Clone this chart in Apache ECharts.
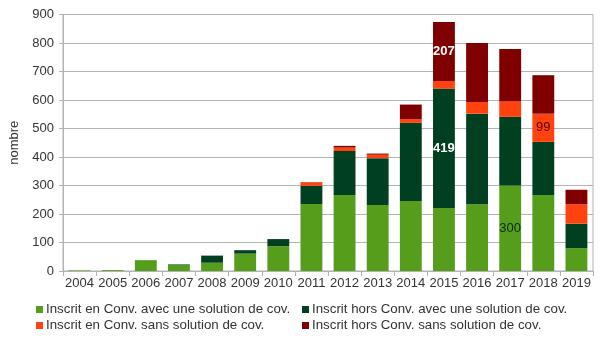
<!DOCTYPE html>
<html>
<head>
<meta charset="utf-8">
<script src="https://cdn.jsdelivr.net/npm/echarts@6/dist/echarts.min.js"></script>
<style>html,body{margin:0;padding:0;background:#fff}#c{width:605px;height:341px}</style>
</head>
<body>
<div id="c"></div>
<script>
const years = ['2004','2005','2006','2007','2008','2009','2010','2011','2012','2013','2014','2015','2016','2017','2018','2019'];
const enConvAvec = [2,3,38,21,29,61,87,235,267,232,246,221,234,300,267,80];
const horsConvAvec = [0,0,0,2,25,12,25,64,154,164,274,419,318,241,186,86];
const enConvSans = [0,0,0,0,0,0,0,12,12,12,13,27,41,55,99,68];
const horsConvSans = [0,0,0,0,0,0,0,1,6,4,51,207,207,183,135,51];
const seriesNames = ['Inscrit en Conv. avec une solution de cov.','Inscrit hors Conv. avec une solution de cov.','Inscrit en Conv. sans solution de cov.','Inscrit hors Conv. sans solution de cov.'];
const colors = ['#579d1c','#004020','#ff420e','#800000'];
// labelled points: [seriesIndex, yearIndex, color, bold]
const labelled = [[0,13,'#0b2a0b','normal'],[1,11,'#ffffff','bold'],[2,14,'#5a0000','normal'],[3,11,'#ffffff','bold']];

const raw = [enConvAvec, horsConvAvec, enConvSans, horsConvSans];
const series = raw.map((arr, si) => ({
  name: seriesNames[si],
  type: 'bar',
  stack: 'all',
  barWidth: '66%',
  itemStyle: {color: colors[si]},
  data: arr.map((v, yi) => {
    const l = labelled.find(x => x[0] === si && x[1] === yi);
    if (!l) return v;
    return {value: v, label: {show: true, position: 'inside', color: l[2], fontWeight: l[3], fontSize: 13, fontFamily: 'Liberation Sans Narrow, Liberation Sans, sans-serif'}};
  })
}));

const F = 'Liberation Sans, Arial, sans-serif';
const chart = echarts.init(document.getElementById('c'), null, {renderer: 'canvas'});
const legendText = {fontFamily: F, fontSize: 13.3, color: '#333', padding: [0,0,0,-2]};
chart.setOption({
  animation: false,
  color: colors,
  textStyle: {fontFamily: F, fontSize: 13, color: '#333'},
  grid: {left: 58, right: 12, top: 14.5, bottom: 70, show: true, borderColor: '#b3b3b3', borderWidth: 1, containLabel: false},
  legend: [
    {data: [seriesNames[0], seriesNames[2]], orient: 'vertical', left: 31, top: 303, padding: [0,5], itemWidth: 7, itemHeight: 7, itemGap: 3, icon: 'rect', textStyle: legendText},
    {data: [seriesNames[1], seriesNames[3]], orient: 'vertical', left: 297, top: 303, padding: [0,5], itemWidth: 7, itemHeight: 7, itemGap: 3, icon: 'rect', textStyle: legendText}
  ],
  xAxis: {
    type: 'category', data: years,
    axisLine: {lineStyle: {color: '#b3b3b3'}},
    axisTick: {show: true, length: 5, lineStyle: {color: '#b3b3b3'}},
    axisLabel: {color: '#333', fontSize: 13, margin: 6, interval: 0, fontFamily: F}
  },
  yAxis: {
    type: 'value', min: 0, max: 900, interval: 100,
    name: 'nombre', nameLocation: 'middle', nameRotate: 90, nameGap: 42,
    nameTextStyle: {color: '#333', fontSize: 13, fontFamily: F},
    axisLine: {show: true, lineStyle: {color: '#b3b3b3'}},
    axisTick: {show: true, length: 4, lineStyle: {color: '#b3b3b3'}},
    axisLabel: {color: '#333', fontSize: 13, margin: 9, fontFamily: F},
    splitLine: {lineStyle: {color: '#b3b3b3'}}
  },
  series: series
});
</script>
</body>
</html>
